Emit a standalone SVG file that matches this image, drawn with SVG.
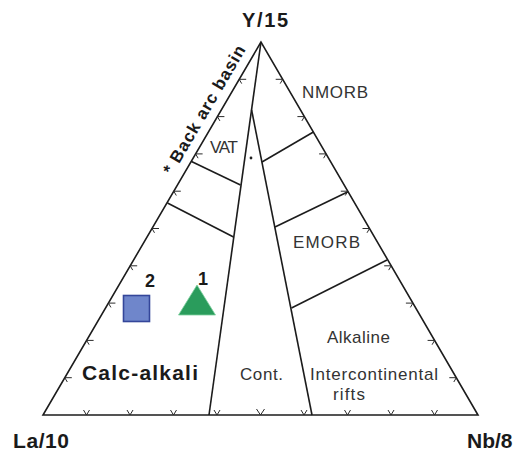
<svg xmlns="http://www.w3.org/2000/svg" width="519" height="456" viewBox="0 0 519 456">
<style>
.edge{fill:none;stroke:#1c1c1c;stroke-width:1.6;stroke-linejoin:miter}
.bnd{fill:none;stroke:#1c1c1c;stroke-width:1.6}
.tick{fill:none;stroke:#2a2a2a;stroke-width:1}
.lab{font-family:"Liberation Sans",Arial,sans-serif;font-size:17px;fill:#333}
.bold{font-family:"Liberation Sans",Arial,sans-serif;font-weight:bold;fill:#1a1a1a}
</style>
<rect width="519" height="456" fill="#ffffff"/>
<g id="plot">
<polygon class="edge" points="261,42 43,415 478,415" fill="#fbf8d6"/>
</g>
<g id="connectors">
<line class="bnd" x1="261" y1="42" x2="209" y2="415"/>
<line class="bnd" x1="251.6" y1="110" x2="312" y2="415"/>
<line class="bnd" x1="191.5" y1="161.5" x2="240.5" y2="185"/>
<line class="bnd" x1="167.5" y1="203" x2="233.5" y2="237"/>
<line class="bnd" x1="262" y1="162" x2="313.4" y2="132"/>
<line class="bnd" x1="275" y1="227" x2="348" y2="191.7"/>
<line class="bnd" x1="291.5" y1="308" x2="387" y2="260"/>
</g>
<g id="ticks">
<path class="tick" d="M239.2,79.3h7M239.2,79.3l2.5,4.3 M217.4,116.6h7M217.4,116.6l2.5,4.3 M195.6,153.9h7M195.6,153.9l2.5,4.3 M173.8,191.2h7M173.8,191.2l2.5,4.3 M152,228.5h7M152,228.5l2.5,4.3 M130.2,265.8h7M130.2,265.8l2.5,4.3 M108.4,303.1h7M108.4,303.1l2.5,4.3 M86.6,340.4h7M86.6,340.4l2.5,4.3 M64.8,377.7h7M64.8,377.7l2.5,4.3"/>
<path class="tick" d="M282.7,79.3h-7M282.7,79.3l-2.5,4.3 M304.4,116.6h-7M304.4,116.6l-2.5,4.3 M326.1,153.9h-7M326.1,153.9l-2.5,4.3 M347.8,191.2h-7M347.8,191.2l-2.5,4.3 M369.5,228.5h-7M369.5,228.5l-2.5,4.3 M391.2,265.8h-7M391.2,265.8l-2.5,4.3 M412.9,303.1h-7M412.9,303.1l-2.5,4.3 M434.6,340.4h-7M434.6,340.4l-2.5,4.3 M456.3,377.7h-7M456.3,377.7l-2.5,4.3"/>
<path class="tick" d="M86.5,415l-3,-5M86.5,415l3,-5 M130,415l-3,-5M130,415l3,-5 M173.5,415l-3,-5M173.5,415l3,-5 M217,415l-3,-5M217,415l3,-5 M260.5,415l-4,-6M260.5,415l4,-6 M304,415l-3,-5M304,415l3,-5 M347.5,415l-3,-5M347.5,415l3,-5 M391,415l-3,-5M391,415l3,-5 M434.5,415l-3,-5M434.5,415l3,-5"/>
<circle cx="251" cy="158" r="1.4" fill="#222"/>
</g>
<g id="labels">
<text class="bold" x="265" y="27" font-size="20" text-anchor="middle" textLength="46">Y/15</text>
<text class="bold" x="13" y="448" font-size="21" textLength="56">La/10</text>
<text class="bold" x="467" y="448" font-size="21">Nb/8</text>
<text class="bold" font-size="17" text-anchor="middle" textLength="146" transform="translate(209.2,112.6) rotate(-59.7)">* Back arc basin</text>
<text class="lab" x="302" y="98" textLength="66">NMORB</text>
<text class="lab" x="210" y="153" font-size="15" textLength="28">VAT</text>
<text class="lab" x="293" y="248" textLength="67">EMORB</text>
<text class="lab" x="327" y="343" textLength="63">Alkaline</text>
<text class="lab" x="310" y="380" textLength="128">Intercontinental</text>
<text class="lab" x="333" y="400" textLength="32">rifts</text>
<text class="lab" x="240" y="380" textLength="43">Cont.</text>
<text class="bold" x="82" y="380" font-size="21" textLength="116">Calc-alkali</text>
</g>
<g id="sample2">
<rect x="123.5" y="295.5" width="26" height="26" fill="#6f86cb" stroke="#34469a" stroke-width="1.6"/>
<text class="bold" x="145" y="287" font-size="18">2</text>
</g>
<g id="sample1">
<polygon points="197,285 178.5,315 215.5,315" fill="#2a9c5c" stroke="#7fd0a0" stroke-width="0.8"/>
<text class="bold" x="198" y="285" font-size="18">1</text>
</g>
</svg>
